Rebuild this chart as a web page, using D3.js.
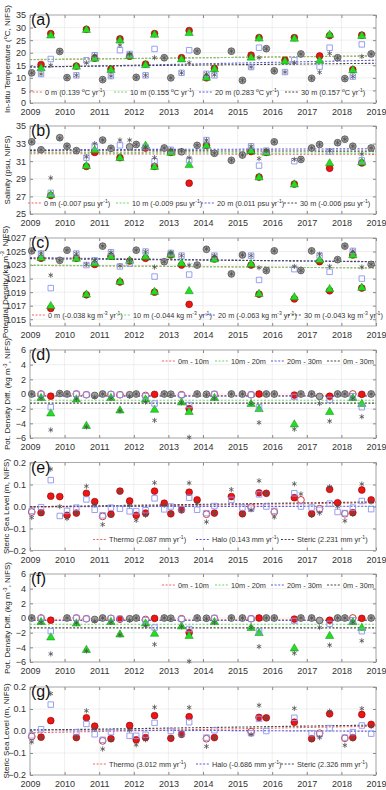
<!DOCTYPE html>
<meta charset="utf-8">
<style>
body { margin: 0; background: #fff; }
svg { display: block; font-family: "Liberation Sans", Arial, sans-serif; }
.tick text { font-size: 9px; fill: #333; }
.tick line { stroke: #888; }
</style>
<svg width="386" height="790"></svg>
<script src="https://d3js.org/d3.v7.min.js"></script>
<script>

// sampling dates (decimal year)
var dates = [2009.05,2009.32,2009.6,2009.86,2010.07,2010.34,2010.63,2010.87,2011.1,2011.34,2011.6,2011.88,2012.07,2012.34,2012.6,2012.88,2013.07,2013.38,2013.6,2013.83,2014.1,2014.33,2014.82,2015.14,2015.39,2015.62,2015.83,2016.06,2016.37,2016.64,2016.83,2017.14,2017.37,2017.66,2017.89,2018.1,2018.33,2018.59,2018.86];
var years = d3.range(2009, 2020);

// (a) in-situ temperature
var temp0  = [12,15.3,27.6,20.5,10.1,14.7,29.3,17.8,9.3,13.5,25.5,18.6,10.2,15.5,27.6,18,10,18,28.8,20.6,10,13.8,20.6,9,19,26,21.6,12.8,17,26,19.5,9.8,18.7,26.8,18,9.7,13.3,27,19.5];
var temp10 = [12,14,27,20.5,10.1,14.6,29.2,17.8,9.3,13.3,25,18.8,10.2,15.2,27.3,18,10,17.5,28,20.6,10.2,13.6,20.6,9,18.2,25.8,21.6,12.8,16.7,25.7,19.5,9.8,17,27.3,18,9.7,13.2,26.8,19.5];
var temp20 = [12,11.5,17.5,20.5,10.1,11,17,19,9.3,10.7,21,19.5,10.2,11,21.5,18,10,12,21,20.6,11.6,11,20.6,9,14.3,22,21.6,12.8,12.3,17,19.5,9.8,14.5,22,18,9.7,10.5,23.3,19.5];
var temp30 = [12,11.5,15,20.5,10.1,11,16,19,9.3,10.7,23,19.5,10.2,11,18,18,10,12,16,20.6,11.6,11.2,20.6,9,14.3,18,21.6,12.8,12.3,16,19.5,9.8,12.2,19.7,18,9.7,10.5,18.5,19.5];
var tempTrendStart = [17.3, 17.2, 14.2, 14.4];
var tempTrendEnd   = [18.7, 18.8, 17.0, 15.8];

// (b) salinity
var sal0  = [33.2,32.3,27.1,33.8,32.7,32.2,30.4,32,33.4,32.4,31.4,32.6,32.9,32.5,30.4,32.5,32,32,28.5,32.8,32.8,31.9,31.1,31.7,32.1,29.2,32,33.2,null,28.4,31.2,32.5,32.9,30.2,33.1,33.5,32.7,30.8,32.5];
var sal10 = [33.2,32.3,27.2,33.6,32.7,32.2,30.5,32.3,33.4,32.5,31.4,32.6,32.9,32.8,30.4,32.5,32,32.1,30.6,32.8,32.8,31.9,31.1,31.7,32.2,29.2,32,33.2,null,28.4,31.2,32.5,32.9,30.8,33.1,33.5,32.7,30.9,32.5];
var sal20 = [33.2,32.3,27.4,33.6,32.7,32.2,31.4,32.7,33.4,32.5,32.8,32.7,32.9,32.6,31,32.5,32.3,32.1,31.1,32.8,33.4,31.9,31.1,31.7,32.7,30.5,32.2,33.2,null,31,31.2,32.5,32.9,32.1,33.1,33.5,32.7,31.1,32.5];
var sal30 = [33.2,32.3,29.1,33.6,32.7,32.2,31.5,33,33.4,32.5,33.4,33.4,32.9,32.6,31.4,32.5,32.3,32.2,31.4,32.8,33.4,31.9,31.1,31.7,32.7,31.3,32.2,33.2,null,31.2,31.2,32.5,32.9,32.2,33.1,33.5,32.7,31.8,32.5];
var salTrendStart = [31.85, 32.0, 32.3, 32.2];
var salTrendEnd   = [31.78, 31.91, 32.41, 32.14];

// (c) potential density
var dens0  = [1025.1,1024,1016.6,1023.7,1025.2,1024,1018.6,1023.1,1025.8,1024.3,1020.5,1023.6,1025.2,1024,1019,1023.5,1024.5,1023,1017.2,1023,1025.3,1023.9,1021.7,1024.5,1023,1018.7,1022.2,1025.1,null,1018,1022.2,1025.1,1023.5,1019.2,1023.8,1025.8,1024.5,1019.6,1023.1];
var dens10 = [1025.1,1024.1,1017,1023.7,1025.2,1024,1018.7,1023.3,1025.8,1024.3,1020.6,1023.7,1025.2,1024.3,1019.1,1023.5,1024.6,1023.3,1019.2,1023,1025.3,1023.9,1021.7,1024.5,1023.2,1018.8,1022.2,1025.1,null,1018.3,1022.2,1025.1,1023.8,1019.5,1023.8,1025.8,1024.5,1019.7,1023.1];
var dens20 = [1025.1,1024.7,1019.6,1023.7,1025.2,1024.7,1023,1023.7,1025.8,1024.9,1022.8,1023.2,1025.2,1025,1021.3,1023.5,1024.8,1024.4,1021.6,1023,1025.4,1024.4,1021.7,1024.5,1024.4,1020.8,1022.2,1025.1,null,1022.4,1022.2,1025.1,1024.4,1022,1023.8,1025.8,1025.1,1021,1023.1];
var dens30 = [1025.1,1024.8,1021.5,1023.7,1025.2,1024.7,1023.1,1023.7,1025.8,1024.9,1022.9,1023.7,1025.2,1025,1022.7,1023.5,1024.8,1024.4,1023,1023,1025.4,1024.4,1021.7,1024.5,1024.4,1022.6,1022.2,1025.1,null,1022.8,1022.2,1025.1,1024.6,1022.8,1023.8,1025.8,1025.1,1022.7,1023.1];
var densTrendStart = [1022.95, 1023.0, 1024.1, 1023.95];
var densTrendEnd   = [1022.57, 1022.56, 1023.47, 1023.52];

// (d) potential density differences
var diff0to10  = [0,0,-0.3,0.2,0,0,-0.1,-0.3,0,-0.05,-0.1,0,0,-0.2,-0.05,0,0,-0.1,-2,0,0,-0.05,0,0,-0.1,0,0,0,null,-0.15,0,0,-0.2,-0.3,0,0,0,-0.05,0];
var diff10to20 = [0,-0.5,-2.6,0,0,-0.7,-4.3,-0.2,0,-0.5,-2.2,-0.1,0,-0.7,-2.1,0,0,-1.1,-2.4,0,-0.1,-0.5,0,0,-1.3,-2,0,0,null,-4.1,0,0,-0.4,-2.4,0,0,-0.5,-1.3,0];
var diff20to30 = [0,-0.05,-1.8,0,0,0,-0.1,-0.1,0,-0.05,-0.1,-0.2,0,-0.3,-1.3,0,-0.1,-0.15,-1.5,0,0,0,0,0,-0.1,-1.8,0,0,null,-0.4,0,0,-0.4,-0.8,0,0,-0.3,-1.8,0];
var diff0to30  = [0,-0.6,-4.9,0.1,0,-0.7,-4.5,-0.4,0,-0.6,-2.3,-0.3,0,-1.1,-3.6,0,-0.1,-1.2,-5.9,0,-0.1,-0.6,0,0,-1.3,-3.9,0,0,null,-4.8,0,0,-1.3,-3.7,0,0,-0.6,-3.1,0];
var diffFilled = [0,0,1,1,0,0,0,1,0,0,0,1,0,0,1,0,0,0,1,0,0,0,0,0,0,1,0,0,0,1,0,0,1,1,0,0,0,1,0];
var diffLevels = [-0.2, -0.85, -0.3, -1.25];

// (e) steric sea level
var thermo = [-0.025,-0.028,0.047,0.045,-0.04,-0.03,0.06,0.022,-0.045,-0.035,0.07,0.025,-0.04,-0.03,0.07,0.015,-0.033,-0.015,0.065,0.03,-0.035,-0.03,0.045,-0.033,-0.003,0.062,0.06,-0.025,null,0.04,0.03,-0.033,-0.01,0.078,0.017,-0.033,-0.028,0.075,0.03];
var halo   = [-0.02,-0.003,0.12,-0.043,-0.02,-0.005,0.032,-0.015,-0.04,-0.005,-0.01,-0.022,-0.022,-0.017,0.037,-0.013,0,-0.012,0.04,-0.015,-0.03,0.002,0.03,-0.005,-0.01,0.055,0,-0.02,null,0.06,0,-0.005,-0.015,0.013,-0.025,-0.03,-0.005,0.025,-0.012];
var steric = [-0.05,-0.03,0.17,0,-0.055,-0.03,0.092,0.008,-0.082,-0.04,0.068,0.004,-0.063,-0.04,0.108,0.006,-0.03,-0.02,0.107,0.015,-0.07,-0.03,0.077,-0.035,-0.015,0.117,0.06,-0.048,null,0.103,0.057,-0.04,-0.03,0.09,0,-0.065,-0.035,0.102,0.02];
var thermoOpen = [1,0,0,0,0,0,0,0,1,0,0,0,0,0,0,0,0,0,0,0,1,0,0,0,1,0,0,1,0,0,1,0,1,0,0,1,0,0,0];
var stericTrendStart = [-0.004, 0.0, -0.001];
var stericTrendEnd   = [0.017, 0.001, 0.021];

// (f) potential density differences, second set
var diffB0to10  = [0,0,-0.3,null,0,0,-0.1,-0.3,0,-0.05,-0.15,0,0,-0.2,-0.05,0,0,-0.1,-2,0,0,-0.05,0,0,-0.1,0,0,0,null,-0.15,0,0,-0.2,-0.3,0,0,0,-0.05,0];
var diffB10to20 = [0,-0.5,-2.6,null,0,-0.7,-4.3,-0.2,0,-0.5,-2.2,-0.1,0,-0.7,-2.1,0,0,-1.1,-2.4,0,-0.1,-0.5,0,0,-1.3,-2,0,0,null,-4.1,0,0,-0.4,-2.4,0,0,-0.5,-1.3,0];
var diffB20to30 = [0,-0.05,-1.8,null,0,0,-0.1,-0.1,0,-0.05,-0.1,-0.2,0,-0.3,-1.3,0,-0.1,-0.15,-1.5,0,0,0,0,0,-0.1,-1.8,0,0,null,-0.4,0,0,-0.4,-0.8,0,0,-0.3,-1.8,0];
var diffB0to30  = [0,-0.6,-4.9,null,0,-0.7,-4.5,-0.4,0,-0.6,-2.3,-0.3,0,-1.1,-3.6,0,-0.1,-1.2,-5.9,0,-0.1,-0.6,0,0,-1.3,-3.9,0,0,null,-4.8,0,0,-1.3,-3.7,0,0,-0.6,-3.1,0];
var diffBFilled = [0,0,1,0,0,0,0,1,0,0,1,1,0,0,1,0,0,0,1,0,0,0,0,0,0,1,0,0,0,1,0,0,1,1,0,0,0,1,0];
var diffBLevels = [-0.25, -0.85, -0.35, -1.35];

// (g) steric sea level, second set
var thermoB = [-0.025,-0.028,0.047,null,null,-0.03,0.06,0.022,-0.045,-0.035,null,0.025,-0.04,-0.03,0.07,null,-0.033,-0.015,0.065,null,-0.035,-0.03,null,null,-0.003,0.062,0.06,null,null,0.04,null,-0.035,-0.01,0.078,null,-0.033,-0.03,0.075,0.03];
var haloB   = [-0.02,0.008,0.12,null,null,-0.005,0.032,-0.015,-0.04,-0.005,null,-0.022,-0.022,-0.017,0.037,null,0,-0.012,0.04,null,-0.03,0.003,null,null,-0.01,0.055,0,null,null,0.06,null,-0.01,-0.015,0.013,null,-0.03,-0.005,0.025,-0.012];
var stericB = [-0.05,-0.03,0.17,null,null,-0.03,0.092,0.008,-0.082,-0.04,null,0.004,-0.063,-0.04,0.108,null,-0.03,-0.02,0.107,null,-0.07,-0.03,null,null,-0.015,0.117,0.06,null,null,0.103,null,-0.04,-0.03,0.09,null,-0.065,-0.035,0.102,0.02];
var stericBTrendStart = [-0.008, 0.006, 0.004];
var stericBTrendEnd   = [0.022, -0.001, 0.027];

var depthLabels = ["0 m", "10 m", "20 m", "30 m"];
var diffLabels = ["0m - 10m", "10m - 20m", "20m - 30m", "0m - 30m"];

var lineColors = ["#f06262", "#66d966", "#5a5ad8", "#444"];

var svg = d3.select("svg"),
    left = 30, right = 376, ph = 88;

var x = d3.scaleLinear().domain([2009, 2019]).range([left, right]);

function flags(n) { return dates.map(function() { return n; }); }
var thermoFilled = thermoOpen.map(function(o) { return 1 - o; });

var panels = [
  { tag: "(a)", top: 15, domain: [0, 35], ticks: d3.range(0, 36, 5), fmt: d3.format("d"),
    ylabel: "In-situ Temperature (^{o}C, NIFS)", ylx: 10,
    series: [temp0, temp10, temp20, temp30], filled: flags(1),
    trend: [tempTrendStart, tempTrendEnd],
    legend: { where: "bottom", xs: [45, 130, 215, 301],
      labels: [depthLabels[0] + " (0.139 ^{o}C yr^{-1})", depthLabels[1] + " (0.155 ^{o}C yr^{-1})",
               depthLabels[2] + " (0.283 ^{o}C yr^{-1})", depthLabels[3] + " (0.157 ^{o}C yr^{-1})"] } },
  { tag: "(b)", top: 126, domain: [25, 35], ticks: d3.range(25, 36, 2), fmt: d3.format("d"),
    ylabel: "Salinity (psu, NIFS)", ylx: 10,
    series: [sal0, sal10, sal20, sal30], filled: flags(1),
    trend: [salTrendStart, salTrendEnd],
    legend: { where: "bottom", xs: [44, 132, 217, 300],
      labels: [depthLabels[0] + " (-0.007 psu yr^{-1})", depthLabels[1] + " (-0.009 psu yr^{-1})",
               depthLabels[2] + " (0.011 psu yr^{-1})", depthLabels[3] + " (-0.006 psu yr^{-1})"] } },
  { tag: "(c)", top: 238, domain: [1014, 1027], ticks: d3.range(1015, 1028, 2), fmt: d3.format("d"),
    ylabel: "Potential Density (kg m^{-3}, NIFS)", ylx: 7.5,
    series: [dens0, dens10, dens20, dens30], filled: flags(1),
    trend: [densTrendStart, densTrendEnd],
    legend: { where: "bottom", xs: [48, 133, 218, 304],
      labels: [depthLabels[0] + " (-0.038 kg m^{-3} yr^{-1})", depthLabels[1] + " (-0.044 kg m^{-3} yr^{-1})",
               depthLabels[2] + " (-0.063 kg m^{-3} yr^{-1})", depthLabels[3] + " (-0.043 kg m^{-3} yr^{-1})"] } },
  { tag: "(d)", top: 350, domain: [-6, 6], ticks: d3.range(-6, 7, 2), fmt: d3.format("d"),
    ylabel: "Pot. Density Diff. (kg m^{-3}, NIFS)", ylx: 10,
    series: [diff0to10, diff10to20, diff20to30, diff0to30], filled: diffFilled,
    trend: [diffLevels, diffLevels],
    legend: { where: "top", xs: [178, 231, 287, 343], labels: diffLabels } },
  { tag: "(e)", top: 462.5, domain: [-0.2, 0.2], ticks: [-0.2, -0.1, 0, 0.1, 0.2], fmt: d3.format(".1f"),
    ylabel: "Steric Sea Level (m, NIFS)", ylx: 8.5,
    series: [thermo, null, halo, steric], filled: thermoFilled,
    trend: [stericTrendStart, stericTrendEnd],
    legend: { where: "bottom", xs: [109, 212, 297],
      labels: ["Thermo (2.087 mm yr^{-1})", "Halo (0.143 mm yr^{-1})", "Steric (2.231 mm yr^{-1})"] } },
  { tag: "(f)", top: 574, domain: [-6, 6], ticks: d3.range(-6, 7, 2), fmt: d3.format("d"),
    ylabel: "Pot. Density Diff. (kg m^{-3}, NIFS)", ylx: 10,
    series: [diffB0to10, diffB10to20, diffB20to30, diffB0to30], filled: diffBFilled,
    trend: [diffBLevels, diffBLevels],
    legend: { where: "top", xs: [178, 231, 287, 343], labels: diffLabels } },
  { tag: "(g)", top: 687, domain: [-0.2, 0.2], ticks: [-0.2, -0.1, 0, 0.1, 0.2], fmt: d3.format(".1f"),
    ylabel: "Steric Sea Level (m, NIFS)", ylx: 8.5,
    series: [thermoB, null, haloB, stericB], filled: thermoFilled,
    trend: [stericBTrendStart, stericBTrendEnd],
    legend: { where: "bottom", xs: [109, 212, 297],
      labels: ["Thermo (3.012 mm yr^{-1})", "Halo (-0.686 mm yr^{-1})", "Steric (2.326 mm yr^{-1})"] } }
];

// text with ^{..} superscripts
function richText(sel, str, fs) {
  var parts = str.split(/(\^\{[^}]*\})/).filter(function(s) { return s.length; });
  var shift = 0;
  parts.forEach(function(p) {
    var sup = p[0] === "^";
    var t = sel.append("tspan").text(sup ? p.slice(2, -1) : p);
    var want = sup ? -fs * 0.4 : 0;
    if (want !== shift) t.attr("dy", want - shift);
    shift = want;
    if (sup) t.style("font-size", (fs * 0.7) + "px");
  });
}

function starPath(r) {
  var u = r * Math.sqrt(3) / 2, t = r / 2;
  return "M0," + r + "L0," + (-r) + "M" + (-u) + "," + (-t) + "L" + u + "," + t +
         "M" + (-u) + "," + t + "L" + u + "," + (-t);
}

var circle = d3.symbol(d3.symbolCircle, 36)(),
    tri = d3.symbol(d3.symbolTriangle, 30)(),
    square = d3.symbol(d3.symbolSquare, 30)();

panels.forEach(function(p) {
  var y = d3.scaleLinear().domain(p.domain).range([p.top + ph, p.top]);
  var g = svg.append("g");
  var bottom = p.top + ph;
  // series slot used by each trend / legend entry
  var slots = p.series[1] === null ? [0, 2, 3] : [0, 1, 2, 3];

  // grid
  g.append("g").selectAll("line").data(years).join("line")
      .attr("x1", x).attr("x2", x).attr("y1", p.top).attr("y2", bottom)
      .attr("stroke", "#e4e4e4").attr("stroke-width", 0.6);
  g.append("g").selectAll("line").data(p.ticks).join("line")
      .attr("x1", left).attr("x2", right).attr("y1", y).attr("y2", y)
      .attr("stroke", "#e4e4e4").attr("stroke-width", 0.6);

  // axes
  g.append("g").attr("transform", "translate(0," + bottom + ")")
      .call(d3.axisBottom(x).tickValues(years).tickFormat(d3.format("d")).tickSize(-3).tickPadding(6))
      .call(function(a) { a.select(".domain").remove(); });
  g.append("g").attr("transform", "translate(0," + p.top + ")")
      .call(d3.axisTop(x).tickValues(years).tickFormat("").tickSize(-3))
      .call(function(a) { a.select(".domain").remove(); });
  g.append("g").attr("transform", "translate(" + left + ",0)")
      .call(d3.axisLeft(y).tickValues(p.ticks).tickFormat(p.fmt).tickSize(-3).tickPadding(4))
      .call(function(a) { a.select(".domain").remove(); });
  g.append("g").attr("transform", "translate(" + right + ",0)")
      .call(d3.axisRight(y).tickValues(p.ticks).tickFormat("").tickSize(-3))
      .call(function(a) { a.select(".domain").remove(); });
  g.append("rect").attr("x", left).attr("y", p.top).attr("width", right - left).attr("height", ph)
      .attr("fill", "none").attr("stroke", "#9a9a9a").attr("stroke-width", 0.8);

  // trend lines
  var tg = g.append("g");
  p.trend[0].forEach(function(v0, k) {
    tg.append("line")
        .attr("x1", x(2009)).attr("x2", x(2019))
        .attr("y1", y(v0)).attr("y2", y(p.trend[1][k]))
        .attr("stroke", lineColors[slots[k]]).attr("stroke-width", 1.1)
        .attr("stroke-dasharray", "2,1.6");
  });

  // markers; where the three coloured depths coincide they read as a grey blot
  var span = Math.abs(p.domain[1] - p.domain[0]), tol = span * 0.02;
  var mg = g.append("g");
  dates.forEach(function(t, i) {
    var cx = x(t);
    var s0 = p.series[0][i], s1 = p.series[1] ? p.series[1][i] : null,
        s2 = p.series[2][i], s3 = p.series[3][i];
    var blend = p.series[1] && s0 != null && s1 != null && s2 != null &&
        (d3.max([s0, s1, s2]) - d3.min([s0, s1, s2])) <= tol;
    if (blend) {
      mg.append("path").attr("d", circle)
          .attr("transform", "translate(" + cx + "," + y(d3.mean([s0, s1, s2])) + ")")
          .attr("fill", "#a3a3a3").attr("stroke", "#505050").attr("stroke-width", 0.8);
    } else {
      if (s0 != null) {
        var f = p.filled[i];
        mg.append("path").attr("d", circle)
            .attr("transform", "translate(" + cx + "," + y(s0) + ")")
            .attr("fill", f ? "#ee1515" : "#fff")
            .attr("stroke", f ? "#8a0000" : "#cf2020").attr("stroke-width", f ? 0.6 : 0.9);
      }
      if (s1 != null) {
        mg.append("path").attr("d", tri)
            .attr("transform", "translate(" + cx + "," + (y(s1) + 0.5) + ")")
            .attr("fill", "#22dd22").attr("stroke", "#129012").attr("stroke-width", 0.5);
      }
      if (s2 != null) {
        mg.append("path").attr("d", square)
            .attr("transform", "translate(" + cx + "," + y(s2) + ")")
            .attr("fill", "none").attr("stroke", "#8c95f0").attr("stroke-width", 0.9);
      }
    }
    if (s3 != null) {
      mg.append("path").attr("d", starPath(2.6))
          .attr("transform", "translate(" + cx + "," + y(s3) + ")")
          .attr("fill", "none").attr("stroke", "#505050").attr("stroke-width", 0.8);
    }
  });

  // legend
  var ly = p.legend.where === "top" ? p.top + 11 : bottom - 11;
  var lg = g.append("g");
  p.legend.labels.forEach(function(lab, k) {
    var tx0 = p.legend.xs[k];
    lg.append("line").attr("x1", tx0 - 16).attr("x2", tx0 - 3).attr("y1", ly).attr("y2", ly)
        .attr("stroke", lineColors[slots[k]]).attr("stroke-width", 1).attr("stroke-dasharray", "2,1.6");
    var tx = lg.append("text").attr("x", tx0).attr("y", ly + 2.5)
        .style("font-size", "7.3px").attr("fill", "#333");
    richText(tx, lab, 7.3);
  });

  // panel tag
  g.append("text").attr("x", 31).attr("y", p.top + 10).text(p.tag)
      .style("font-size", "16px").attr("fill", "#111");

  // y label
  var yl = g.append("text")
      .attr("transform", "translate(" + p.ylx + "," + (p.top + ph / 2) + ") rotate(-90)")
      .attr("text-anchor", "middle").style("font-size", "8px").attr("fill", "#222");
  richText(yl, p.ylabel, 8);
});

</script>
